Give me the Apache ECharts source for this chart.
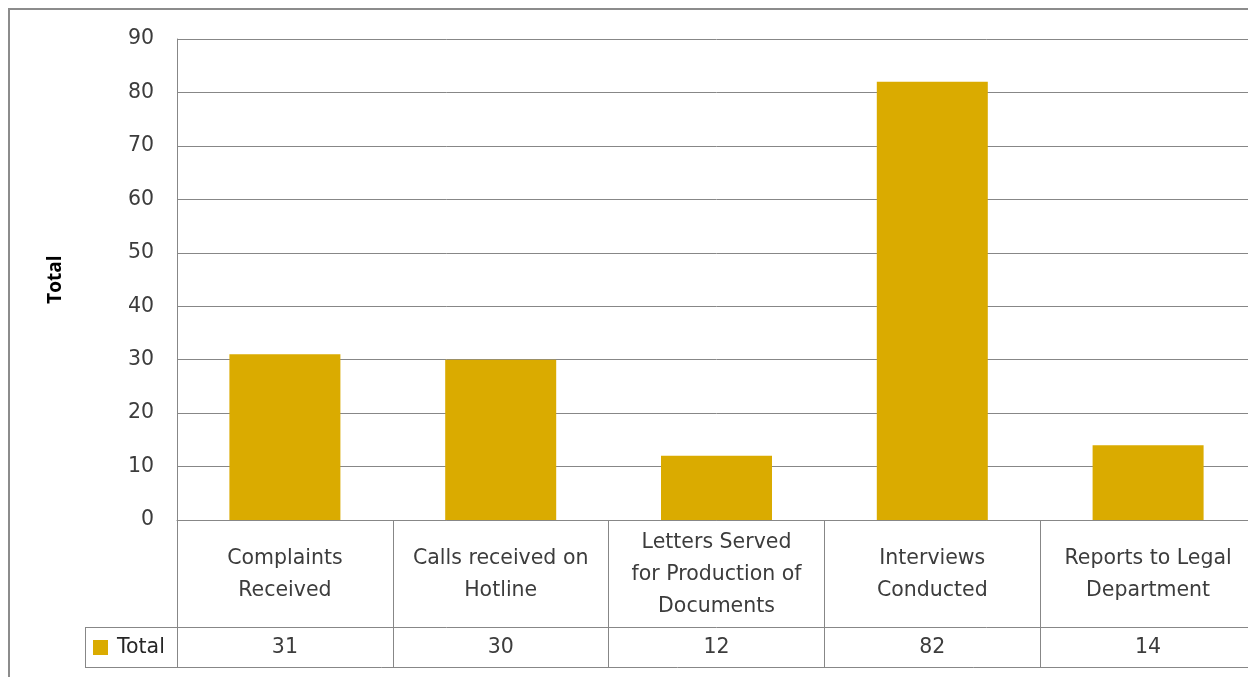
<!DOCTYPE html>
<html><head><meta charset="utf-8">
<script src="https://cdn.jsdelivr.net/npm/echarts@6/dist/echarts.min.js"></script>
<style>html,body{margin:0;padding:0;background:#fff;overflow:hidden;width:1248px;height:677px;}#c{width:1270px;height:677px;}</style>
</head><body><div id="c"></div>
<script>
var categories = ["Complaints\nReceived", "Calls received on\nHotline", "Letters Served\nfor Production of\nDocuments", "Interviews\nConducted", "Reports to Legal\nDepartment"];
var values = [31, 30, 12, 82, 14];
var seriesName = "Total";
var yTicks = [0, 10, 20, 30, 40, 50, 60, 70, 80, 90];

var FONT = "DejaVu Sans";
var FS = 20.5;
var TXT = "#3c3c3c";
var LINE = "#878787";
var chart = echarts.init(document.getElementById('c'), null, {renderer: 'canvas'});
chart.setOption({
  animation: false,
  textStyle: {fontFamily: FONT},
  grid: {left: 177, top: 39, bottom: 157, right: 14, containLabel: false},
  legend: {
    data: [seriesName], left: 93, top: 635, itemWidth: 15, itemHeight: 15, icon: 'rect', padding: 0,
    textStyle: {fontFamily: FONT, fontSize: FS, color: '#262626', lineHeight: 25, padding: [0,0,0,4]}
  },
  xAxis: [
    {
      type: 'category', data: categories, position: 'bottom',
      axisLine: {show: true, lineStyle: {color: LINE, width: 1}},
      axisTick: {show: true, length: 147, lineStyle: {color: LINE, width: 1}},
      axisLabel: {margin: 55, verticalAlign: 'middle', lineHeight: 32, fontSize: FS, color: TXT, fontFamily: FONT, interval: 0}
    },
    {
      type: 'category', data: values.map(String), position: 'bottom', offset: 107,
      axisLine: {show: true, lineStyle: {color: LINE, width: 1}},
      axisTick: {show: false},
      axisLabel: {margin: 21, verticalAlign: 'middle', fontSize: FS, color: TXT, fontFamily: FONT, interval: 0}
    }
  ],
  yAxis: {
    type: 'value', min: yTicks[0], max: yTicks[yTicks.length-1], interval: 10,
    name: seriesName, nameLocation: 'middle', nameGap: 112, nameRotate: 90,
    nameTextStyle: {fontFamily: 'Open Sans', fontSize: 19, fontWeight: 'bold', color: '#000'},
    axisLine: {show: true, lineStyle: {color: LINE, width: 1}},
    axisTick: {show: false},
    splitLine: {show: true, lineStyle: {color: LINE, width: 1}},
    axisLabel: {margin: 23, fontSize: FS, color: TXT, fontFamily: FONT}
  },
  series: [{
    name: seriesName, type: 'bar', data: values, barWidth: 111,
    itemStyle: {color: '#DAAB00'}
  }],
  graphic: [
    {type: 'rect', shape: {x: 9, y: 9, width: 1300, height: 700}, style: {fill: 'none', stroke: '#8c8c8c', lineWidth: 2}, silent: true},
    {type: 'line', shape: {x1: 85, y1: 627.5, x2: 177, y2: 627.5}, style: {stroke: LINE, lineWidth: 1}},
    {type: 'line', shape: {x1: 85, y1: 667.5, x2: 1270, y2: 667.5}, style: {stroke: LINE, lineWidth: 1}},
    {type: 'line', shape: {x1: 85.5, y1: 627, x2: 85.5, y2: 668}, style: {stroke: LINE, lineWidth: 1}}
  ]
});
</script></body></html>
